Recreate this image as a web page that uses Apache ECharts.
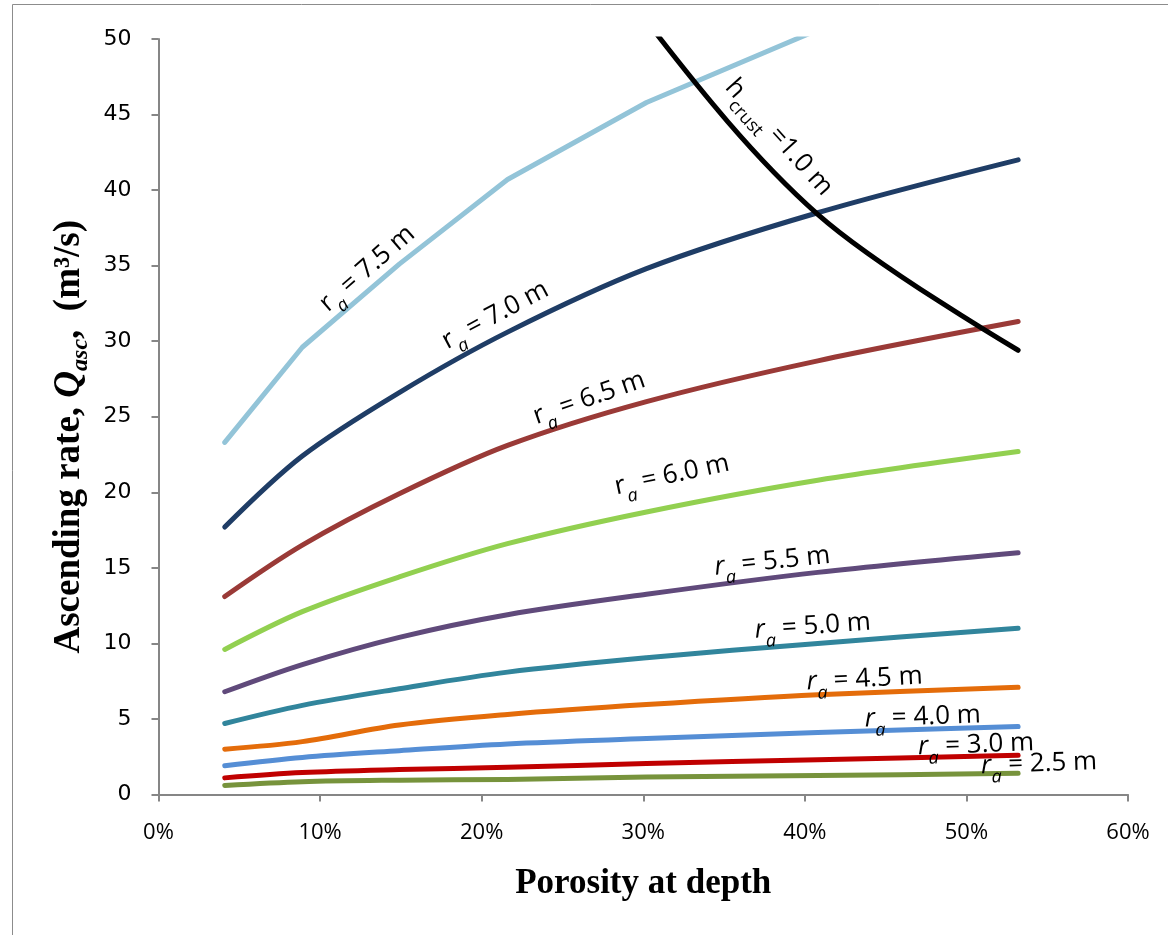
<!DOCTYPE html>
<html>
<head>
<meta charset="utf-8">
<script src="https://cdn.jsdelivr.net/npm/echarts@6/dist/echarts.min.js"></script>
<style>
html,body{margin:0;padding:0;background:#fff;}
#chart{width:1168px;height:935px;}
</style>
</head>
<body>
<div id="chart"></div>
<script>
// Porosity at depth (%)
const porosity = [4.1, 8.9, 14.9, 21.6, 30.2, 40.8, 53.2];
// Ascending rate Q_asc (m^3/s) for each conduit radius r_a
const ra75 = [23.3, 29.6, 35.1, 40.7, 45.8, 50.6, 56.0];
const ra70 = [17.7, 22.4, 26.6, 30.6, 34.8, 38.5, 42.0];
const ra65 = [13.1, 16.5, 19.9, 23.1, 26.0, 28.7, 31.3];
const ra60 = [9.6, 12.1, 14.4, 16.6, 18.7, 20.8, 22.7];
const ra55 = [6.8, 8.6, 10.4, 11.9, 13.25, 14.7, 16.0];
const ra50 = [4.7, 5.9, 7.0, 8.1, 9.05, 10.0, 11.0];
const ra45 = [3.0, 3.5, 4.6, 5.3, 5.95, 6.6, 7.1];
const ra40 = [1.9, 2.45, 2.9, 3.35, 3.7, 4.1, 4.5];
const ra30 = [1.1, 1.45, 1.65, 1.8, 2.05, 2.3, 2.6];
const ra25 = [0.6, 0.85, 0.95, 1.0, 1.15, 1.25, 1.4];
// crust thickness curve h_crust = 1.0 m
const hcrust10 = [null, null, null, 65.0, 51.2, 38.4, 29.4];

const yTicks = [0, 5, 10, 15, 20, 25, 30, 35, 40, 45, 50];
const xTickLabels = ['0%', '10%', '20%', '30%', '40%', '50%', '60%'];

const seriesDefs = [
  {name: 'r_a = 7.5 m', data: ra75, color: '#93C4D8', smooth: false},
  {name: 'r_a = 7.0 m', data: ra70, color: '#1F3D66', smooth: true},
  {name: 'r_a = 6.5 m', data: ra65, color: '#9A3A37', smooth: true},
  {name: 'r_a = 6.0 m', data: ra60, color: '#92D050', smooth: true},
  {name: 'r_a = 5.5 m', data: ra55, color: '#604A7B', smooth: true},
  {name: 'r_a = 5.0 m', data: ra50, color: '#31859C', smooth: true},
  {name: 'r_a = 4.5 m', data: ra45, color: '#E46C0A', smooth: true},
  {name: 'r_a = 4.0 m', data: ra40, color: '#558ED5', smooth: true},
  {name: 'r_a = 3.0 m', data: ra30, color: '#C00000', smooth: true},
  {name: 'r_a = 2.5 m', data: ra25, color: '#77933C', smooth: true},
  {name: 'h_crust = 1.0 m', data: hcrust10, color: '#000000', smooth: true}
];

// label anchors in data coordinates, with rotation (deg)
const labelDefs = [
  {head: 'r', sub: 'a', tail: ' = 7.5 m', at: [13.0, 34.7], rot: 41, italicHead: false},
  {head: 'r', sub: 'a', tail: ' = 7.0 m', at: [20.9, 31.6], rot: 28, italicHead: false},
  {head: 'r', sub: 'a', tail: ' = 6.5 m', at: [26.7, 26.1], rot: 19, italicHead: false},
  {head: 'r', sub: 'a', tail: ' = 6.0 m', at: [31.8, 21.0], rot: 12, italicHead: false},
  {head: 'r', sub: 'a', tail: ' = 5.5 m', at: [38.0, 15.3], rot: 6, italicHead: true},
  {head: 'r', sub: 'a', tail: ' = 5.0 m', at: [40.5, 11.0], rot: 4, italicHead: true},
  {head: 'r', sub: 'a', tail: ' = 4.5 m', at: [43.7, 7.5], rot: 3, italicHead: true},
  {head: 'r', sub: 'a', tail: ' = 4.0 m', at: [47.3, 5.0], rot: 2, italicHead: true},
  {head: 'r', sub: 'a', tail: ' = 3.0 m', at: [50.6, 3.15], rot: 2, italicHead: true},
  {head: 'r', sub: 'a', tail: ' = 2.5 m', at: [54.5, 1.9], rot: 2, italicHead: true},
  {head: 'h', sub: 'crust', tail: ' =1.0 m', at: [38.3, 43.4], rot: -48, italicHead: false}
];

const chart = echarts.init(document.getElementById('chart'), null, {renderer: 'canvas'});
const FONT = '"Open Sans", "Liberation Sans", sans-serif';
const SERIF = '"Liberation Serif", "Times New Roman", serif';

const option = {
  backgroundColor: '#ffffff',
  animation: false,
  grid: {left: 158.5, right: 40, top: 39, bottom: 140.5, containLabel: false},
  xAxis: {
    type: 'value', min: 0, max: 60, interval: 10,
    name: 'Porosity at depth', nameLocation: 'middle', nameGap: 72,
    nameTextStyle: {fontFamily: SERIF, fontWeight: 'bold', fontSize: 35, color: '#000'},
    axisLine: {show: true, lineStyle: {color: '#868686', width: 2}},
    axisTick: {show: true, length: 7, inside: false, lineStyle: {color: '#868686', width: 2}},
    axisLabel: {fontFamily: FONT, fontSize: 22, color: '#000', margin: 27,
      formatter: function (v) { return xTickLabels[Math.round(v / 10)]; }},
    splitLine: {show: false}
  },
  yAxis: {
    type: 'value', min: 0, max: 50, interval: 5,
    name: '{b|Ascending rate, }{q|Q}{s|asc}{e|,  (m³/s)}',
    nameLocation: 'middle', nameGap: 52, nameRotate: 90,
    nameTextStyle: {
      rich: {
        b: {fontFamily: SERIF, fontWeight: 'bold', fontSize: 37, color: '#000', lineHeight: 38, verticalAlign: 'top'},
        q: {fontFamily: SERIF, fontWeight: 'bold', fontStyle: 'italic', fontSize: 37, color: '#000', lineHeight: 38, verticalAlign: 'top'},
        s: {fontFamily: SERIF, fontWeight: 'bold', fontStyle: 'italic', fontSize: 24, color: '#000', lineHeight: 24, padding: [18, 0, 0, 0], verticalAlign: 'top'},
        e: {fontFamily: SERIF, fontWeight: 'bold', fontSize: 37, color: '#000', lineHeight: 38, verticalAlign: 'top', padding: [0, 40, 0, 0]}
      }
    },
    axisLine: {show: true, lineStyle: {color: '#868686', width: 2}},
    axisTick: {show: true, length: 7, inside: false, lineStyle: {color: '#868686', width: 2}},
    axisLabel: {fontFamily: '"DejaVu Sans", Verdana, sans-serif', fontSize: 22, color: '#000', margin: 27,
      formatter: function (v) { return yTicks.indexOf(v) >= 0 ? String(v) : ''; }},
    splitLine: {show: false}
  },
  series: seriesDefs.map(function (s) {
    return {
      type: 'line', name: s.name,
      data: porosity.map(function (p, i) { return [p, s.data[i]]; }),
      smooth: s.smooth ? 0.33 : false,
      showSymbol: false, symbol: 'none',
      clip: true,
      lineStyle: {color: s.color, width: 5, cap: 'round', join: 'round'},
      itemStyle: {color: s.color},
      z: s.name.indexOf('h_crust') === 0 ? 5 : 3
    };
  })
};
chart.setOption(option);

function richFor(d) {
  return {
    h: {fontFamily: FONT, fontSize: 26, fontStyle: d.italicHead ? 'italic' : 'normal', fill: '#000', lineHeight: 30, verticalAlign: 'top'},
    s: {fontFamily: FONT, fontSize: 18, fontStyle: d.sub === 'a' ? 'italic' : 'normal', fill: '#000', lineHeight: 18, padding: [16, 0, 0, 0], verticalAlign: 'top'},
    t: {fontFamily: FONT, fontSize: 26, fill: '#000', lineHeight: 30, verticalAlign: 'top'}
  };
}

const graphics = [{
  type: 'rect', silent: true, z: -10,
  shape: {x: 12.5, y: 4.5, width: 1250, height: 1000},
  style: {fill: 'none', stroke: '#8c8c8c', lineWidth: 1}
}];
labelDefs.forEach(function (d) {
  const p = chart.convertToPixel({gridIndex: 0}, d.at);
  graphics.push({
    type: 'text', x: p[0], y: p[1], rotation: d.rot * Math.PI / 180, z: 10,
    style: {
      text: '{h|' + d.head + '}{s|' + d.sub + '}{t|' + d.tail + '}',
      rich: richFor(d),
      align: 'center', verticalAlign: 'middle', fill: '#000'
    }
  });
});
chart.setOption({graphic: graphics});
</script>
</body>
</html>
